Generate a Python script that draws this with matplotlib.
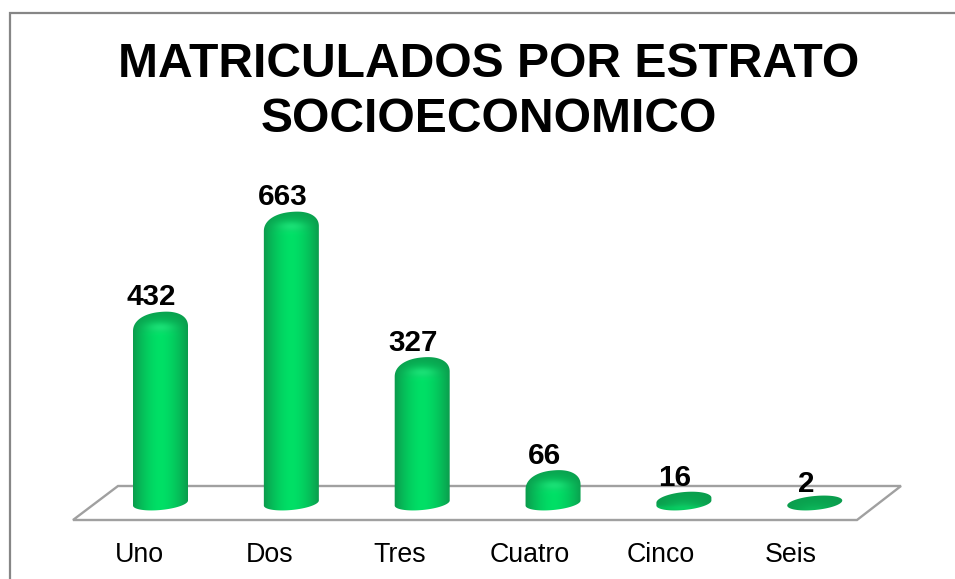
import numpy as np
import matplotlib
matplotlib.use("Agg")
import matplotlib.pyplot as plt
from matplotlib.lines import Line2D
from matplotlib.patches import Polygon, PathPatch
from matplotlib.path import Path

categories = ["Uno", "Dos", "Tres", "Cuatro", "Cinco", "Seis"]
values = [432, 663, 327, 66, 16, 2]
title_lines = ["MATRICULADOS POR ESTRATO", "SOCIOECONOMICO"]

W, H = 955, 579
plt.rcParams["font.family"] = ["Liberation Sans", "DejaVu Sans"]
fig = plt.figure(figsize=(W / 100, H / 100), dpi=100, facecolor="white")

# chart scale: category index -> px x, value -> px y
X0, DX = 160.5, 130.85
Y0, KY = 499.0, 0.433
ax = fig.add_axes([0, 0, 1, 1])
xlim = ((0 - X0) / DX, (W - X0) / DX)
ylim = ((Y0 - H) / KY, Y0 / KY)
ax.set_xlim(xlim)
ax.set_ylim(ylim)
ax.axis("off")

def px(x, y):
    return ((x - X0) / DX, (Y0 - y) / KY)

# chart border: only the top and left edges fall inside the picture
fig.add_artist(Line2D([9.5 / W, 9.5 / W, 1], [0, 1 - 12.5 / H, 1 - 12.5 / H],
                      transform=fig.transFigure, color="#868686", lw=1.6,
                      solid_joinstyle="miter"))

# 3D floor
ax.add_patch(Polygon([px(73, 520), px(118, 486), px(901, 486), px(857, 520)], closed=True,
                     fill=False, ec="#a0a0a0", lw=1.7, zorder=1))

dark = np.array([0x0b, 0x9c, 0x4d]) / 255
bright = np.array([0x00, 0xe0, 0x66]) / 255
hi = np.array([0x28, 0xee, 0x84]) / 255

HALF_W = 27.5
BASE_Y = 503.0
SEMI_B = 7.0
TILT = 2.5

def outline(cx, top):
    total = BASE_Y - top
    cap = 17.0 if total >= 17 else (total * 0.75 if total > 8 else total)
    side = top + cap
    t = np.linspace(0, np.pi, 60)
    bx = cx + HALF_W * np.cos(t)
    by = BASE_Y + SEMI_B * np.sin(t) - TILT * np.cos(t)
    n = 2.25 if total >= 17 else 2.0
    t2 = np.linspace(np.pi, 0, 120)
    q = np.cos(t2)
    ux = cx + HALF_W * q
    uy = side - cap * (1 - np.abs(q) ** n) ** (1 / n) - TILT * q
    return np.r_[bx, ux], np.r_[by, uy]

for i, v in enumerate(values):
    cx = X0 + DX * i
    top = min(Y0 - KY * v, BASE_Y - SEMI_B)  # even the smallest bar shows its full disc
    ox, oy = outline(cx, top)
    verts = np.column_stack([(ox - X0) / DX, (Y0 - oy) / KY])
    path = Path(np.vstack([verts, verts[0]]), closed=True)
    patch = PathPatch(path, fc="none", ec="none", zorder=3)
    ax.add_patch(patch)

    xs = np.arange(cx - HALF_W - 1, cx + HALF_W + 1.01, 0.5)
    ys = np.arange(top - 6, BASE_Y + SEMI_B + 3, 0.5)
    XX, YY = np.meshgrid(xs, ys)
    u = np.clip((XX - cx) / HALF_W, -1, 1)
    horiz = np.clip(1 - np.abs(u) ** 1.7, 0, 1)
    dy = YY - top
    capfac = np.clip(dy / 22.0, 0, 1)
    flat = min(1.0, (BASE_Y - top) / 28.0)
    f = horiz * (0.12 + 0.88 * capfac ** 1.2) * (0.2 + 0.8 * flat)
    img = dark[None, None] * (1 - f[..., None]) + bright[None, None] * f[..., None]
    # highlight under the cap
    g = np.exp(-((XX - cx) / 14.0) ** 2 - ((YY - (top + 15)) / 5.0) ** 2) * 0.6 * flat
    img = img * (1 - g[..., None]) + hi[None, None] * g[..., None]
    # lighter lower rim on the flat discs
    if flat < 1:
        rim = np.exp(-((YY - (BASE_Y + 5)) / 2.5) ** 2) * 0.5 * (1 - (2.0 / max(v, 1)))
        rim = np.clip(rim, 0, 1)
        img = img * (1 - rim[..., None]) + bright[None, None] * rim[..., None]
    e = (px(xs[0], 0)[0], px(xs[-1], 0)[0], px(0, ys[-1])[1], px(0, ys[0])[1])
    im = ax.imshow(img, extent=e, origin="upper", aspect="auto", zorder=3, interpolation="bilinear")
    im.set_clip_path(patch)

    # value label
    ax.annotate(str(v), (i, v), xytext=(-9.0 * 0.72, 6.5 * 0.72), textcoords="offset points",
                ha="center", va="baseline", fontsize=21.3, fontweight="bold", color="black", zorder=5)

ax.set_xlim(xlim)
ax.set_ylim(ylim)

# category labels
for i, c in enumerate(categories):
    ax.annotate(c, (i, 0), xytext=((-21.5 - 0.45 * i) * 0.72, (Y0 - 561.5) * 0.72), textcoords="offset points",
                ha="center", va="baseline", fontsize=19.3, color="black", zorder=5)

fig.text(489 / W, 1 - 77 / H, title_lines[0], ha="center", va="baseline",
         fontsize=34.6, fontweight="bold", color="black")
fig.text(489 / W, 1 - 132 / H, title_lines[1], ha="center", va="baseline",
         fontsize=34.6, fontweight="bold", color="black")

fig.savefig("out.png", dpi=100, facecolor="white")
